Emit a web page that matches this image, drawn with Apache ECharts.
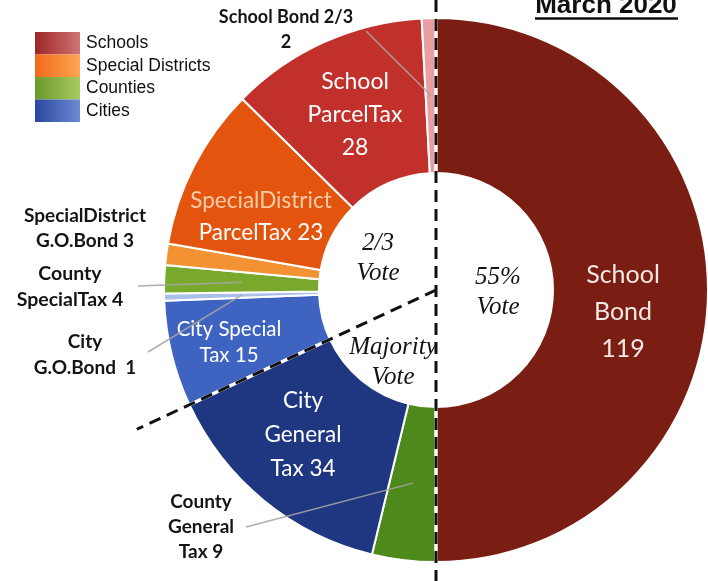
<!DOCTYPE html>
<html>
<head>
<meta charset="utf-8">
<script src="https://cdn.jsdelivr.net/npm/echarts@6/dist/echarts.min.js"></script>
<style>
  html, body { margin: 0; padding: 0; background: #fff; }
  #chart { width: 708px; height: 581px; }
</style>
</head>
<body>
<div id="chart"></div>
<script>
// Tax measures on the March 2020 ballot, listed clockwise from 12 o'clock
const categories = ['School Bond', 'County General Tax', 'City General Tax', 'City Special Tax',
  'City G.O. Bond', 'County Special Tax', 'Special District G.O. Bond',
  'Special District Parcel Tax', 'School Parcel Tax', 'School Bond 2/3'];
const measureCounts = [119, 9, 34, 15, 1, 4, 3, 23, 28, 2];
// wording printed on each slice; the count is appended by the formatter
const labelWords = ['School\nBond', 'County\nGeneral\nTax', 'City\nGeneral\nTax', 'City Special\nTax',
  'City\nG.O.Bond ', 'County\nSpecialTax', 'SpecialDistrict\nG.O.Bond',
  'SpecialDistrict\nParcelTax', 'School\nParcelTax', 'School Bond 2/3'];
const valueJoin = ['\n', ' ', ' ', ' ', ' ', ' ', ' ', ' ', '\n', '\n'];
const legendGroups = ['Schools', 'Special Districts', 'Counties', 'Cities'];
const voteZones = [['2/3', 'Vote'], ['55%', 'Vote'], ['Majority', 'Vote']];
const titleText = 'March 2020';

// ---- styling ----
const sliceColors = ['#7a1d12', '#4e891b', '#1f3781', '#3e63c1', '#a9c0ea',
  '#78a82c', '#f29233', '#e3550f', '#c1302a', '#e99ea2'];
const legendColors = [['#9b2626', '#d27474'], ['#f06a1a', '#ffa552'], ['#6b992a', '#a9ca62'], ['#2a479e', '#6c8bd3']];
const insideLabel = [true, false, true, true, false, false, false, true, true, false];
const labelFont = [25, 19, 22.5, 20.5, 19, 19.5, 19, 22.5, 23, 18];
const labelLH = [37, 25, 34, 26, 26, 26, 25, 32, 33, 25];
const labelAt = [[623, 312], [201, 527], [303, 435], [229, 342], [85, 355],
  [70, 287], [85, 228], [261, 217], [355, 115], [286, 30]];
const leaderFrom = [null, [246, 527], null, null, [148, 352], [138, 286], null, null, null, [366, 31]];
const voteAt = [[378, 258], [498, 292], [393, 362]];

const center = [436, 290];
const radius = [117, 272];
const total = measureCounts.reduce((a, b) => a + b, 0);
const starts = [];
measureCounts.reduce((acc, v, i) => { starts[i] = acc; return acc + v; }, 0);

// point on the ring at a cumulative count (clockwise from top)
function ringPoint(units, r) {
  const a = units / total * 2 * Math.PI;
  return [center[0] + r * Math.sin(a), center[1] - r * Math.cos(a)];
}

const pieData = measureCounts.map((v, i) => ({
  name: categories[i],
  value: v,
  itemStyle: { color: sliceColors[i] },
  label: {
    position: insideLabel[i] ? 'inside' : 'outside',
    color: insideLabel[i] ? (i === 0 ? '#f3e8e4' : '#ffffff') : '#141414',
    fontWeight: insideLabel[i] ? 'normal' : 'bold',
    fontSize: labelFont[i],
    lineHeight: labelLH[i]
  }
}));

const chart = echarts.init(document.getElementById('chart'), null, { renderer: 'canvas' });

const graphics = [];

// leader lines from outside labels into the middle of their slices
leaderFrom.forEach((from, i) => {
  if (!from) return;
  const end = ringPoint(starts[i] + measureCounts[i] / 2, (radius[0] + radius[1]) / 2);
  graphics.push({ type: 'line', z: 50, shape: { x1: from[0], y1: from[1], x2: end[0], y2: end[1] },
    style: { stroke: '#a5a5a5', lineWidth: 1.5, opacity: 0.9 } });
});

// vote-threshold dividers: vertical through the centre, diagonal along the city tax boundary
const diagEnd = ringPoint(starts[3], 330);
const dividers = [
  [center[0], 0, center[0], 581],
  [center[0], center[1], diagEnd[0], diagEnd[1]]
];
dividers.forEach(d => {
  graphics.push({ type: 'line', z: 100, shape: { x1: d[0], y1: d[1], x2: d[2], y2: d[3] },
    style: { stroke: '#ffffff', lineWidth: 3.5 } });
  graphics.push({ type: 'line', z: 101, shape: { x1: d[0], y1: d[1], x2: d[2], y2: d[3] },
    style: { stroke: '#111111', lineWidth: 3, lineDash: [12, 7] } });
});

voteZones.forEach((z, i) => {
  graphics.push({ type: 'text', z: 102, x: voteAt[i][0], y: voteAt[i][1],
    style: { text: z.join('\n'), align: 'center', verticalAlign: 'middle',
      font: 'italic 25px "Liberation Serif", serif', lineHeight: 30, fill: '#141414' } });
});

// group legend
legendGroups.forEach((g, i) => {
  const y0 = 32 + i * 22.5;
  graphics.push({ type: 'rect', z: 100, shape: { x: 35, y: y0, width: 45, height: 22.5 },
    style: { fill: new echarts.graphic.LinearGradient(0, 0, 1, 0, [
      { offset: 0, color: legendColors[i][0] }, { offset: 1, color: legendColors[i][1] }]) } });
  graphics.push({ type: 'text', z: 100, x: 86, y: y0 + 11.5,
    style: { text: g, verticalAlign: 'middle', font: '17.5px "Liberation Sans", Arial, sans-serif', fill: '#111' } });
});

// heading, partly above the top edge, underlined
graphics.push({ type: 'text', z: 100, x: 606, y: 6,
  style: { text: titleText, align: 'center', verticalAlign: 'middle',
    font: 'bold 26px "Liberation Sans", Arial, sans-serif', fill: '#111' } });
graphics.push({ type: 'line', z: 100, shape: { x1: 535, y1: 18.5, x2: 678, y2: 18.5 },
  style: { stroke: '#111', lineWidth: 2.5 } });

chart.setOption({
  animation: false,
  backgroundColor: '#ffffff',
  graphic: graphics,
  series: [{
    type: 'pie',
    center: center,
    radius: radius,
    startAngle: 90,
    clockwise: true,
    avoidLabelOverlap: false,
    itemStyle: { borderColor: '#ffffff', borderWidth: 2 },
    label: {
      fontFamily: 'Lato, "Open Sans", sans-serif',
      formatter: p => {
        const i = p.dataIndex;
        if (i === 7) {
          const parts = labelWords[i].split('\n');
          return '{hi|' + parts[0] + '}\n{lo|' + parts[1] + valueJoin[i] + p.value + '}';
        }
        return labelWords[i] + valueJoin[i] + p.value;
      },
      rich: {
        hi: { color: '#fbcda6', fontSize: 22.5, lineHeight: 32, fontFamily: 'Lato, sans-serif' },
        lo: { color: '#ffffff', fontSize: 22.5, lineHeight: 32, fontFamily: 'Lato, sans-serif' }
      }
    },
    labelLine: { show: false },
    labelLayout: p => {
      const i = p.dataIndex;
      return { x: labelAt[i][0], y: labelAt[i][1], align: 'center', verticalAlign: 'middle' };
    },
    emphasis: { disabled: true },
    data: pieData
  }]
});
</script>
</body>
</html>
